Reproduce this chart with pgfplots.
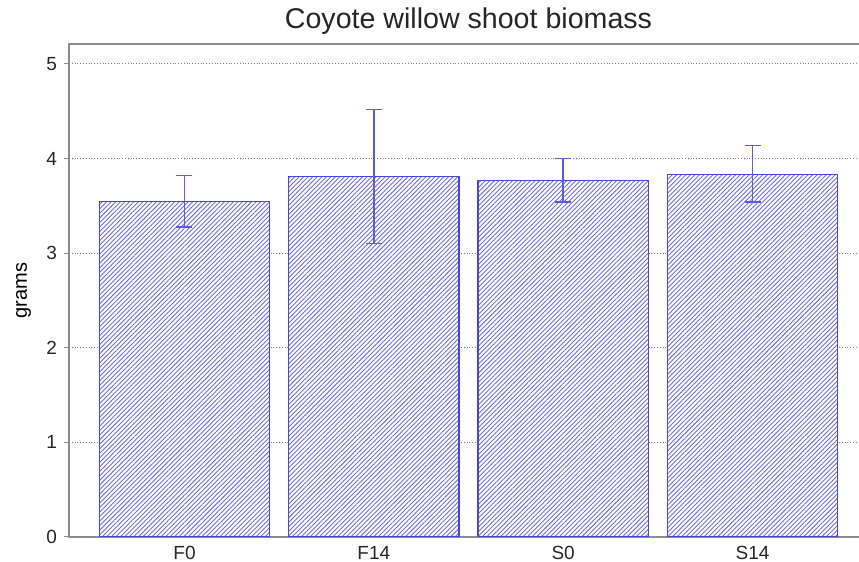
\documentclass[border=0pt]{standalone}
\usepackage{fontspec}
\setmainfont{Liberation Sans}
\usepackage{pgfplots}
\pgfplotsset{compat=1.18}
\usetikzlibrary{patterns.meta}
\definecolor{baredge}{RGB}{70,70,225}
\definecolor{hatch}{RGB}{110,110,235}
\definecolor{errc}{RGB}{90,90,235}
\definecolor{axgray}{RGB}{140,140,140}
\begin{document}
\begin{tikzpicture}
\useasboundingbox (-34.5pt,-12.5pt) rectangle (395pt,268.5pt);
\begin{axis}[
 at={(0,0)}, anchor=south west,
 scale only axis, width=399.5pt, height=246.5pt,
 xmin=-0.61, xmax=3.61, ymin=0, ymax=5.21,
 xtick={0,1,2,3}, xticklabels={F0,F14,S0,S14},
 ytick={0,1,2,3,4,5},
 ymajorgrids, major grid style={densely dotted, gray, line width=0.5pt},
 axis line style={axgray, line width=0.7pt},
 tick align=outside, major tick length=2.5pt,
 xtick style={draw=none}, ytick style={axgray, line width=0.5pt},
 /pgf/number format/assume math mode=true,
 tick label style={font=\fontsize{9.5}{10}\selectfont, black!85},
 xticklabel style={yshift=1.5pt},
 title={Coyote willow shoot biomass},
 title style={at={(axis description cs:0.5,1)}, anchor=base, yshift=1.5pt, font=\fontsize{14.3}{16}\selectfont, black!85},
 ylabel={grams},
 ylabel style={at={(axis description cs:-0.0526,0.5)}, anchor=base, font=\fontsize{10}{12}\selectfont},
]
\addplot[ybar, bar width=0.9, draw=baredge, line width=0.55pt, fill=white,
 postaction={pattern={Lines[angle=45,distance=1.6pt,line width=0.45pt]}, pattern color=hatch}]
 coordinates {(0,3.55) (1,3.805) (2,3.77) (3,3.834)};
\addplot[draw=none, mark=none, forget plot,
 error bars/.cd, y dir=both, y explicit,
 error bar style={draw=errc, line width=0.7pt},
 error mark options={rotate=90, mark size=4pt, draw=errc, line width=0.7pt}]
 coordinates {
 (0,3.55) += (0,0.27) -= (0,0.275)
 (1,3.805) += (0,0.713) -= (0,0.705)
 (2,3.77) += (0,0.23) -= (0,0.23)
 (3,3.834) += (0,0.306) -= (0,0.294)
 };
\end{axis}
\end{tikzpicture}
\end{document}
